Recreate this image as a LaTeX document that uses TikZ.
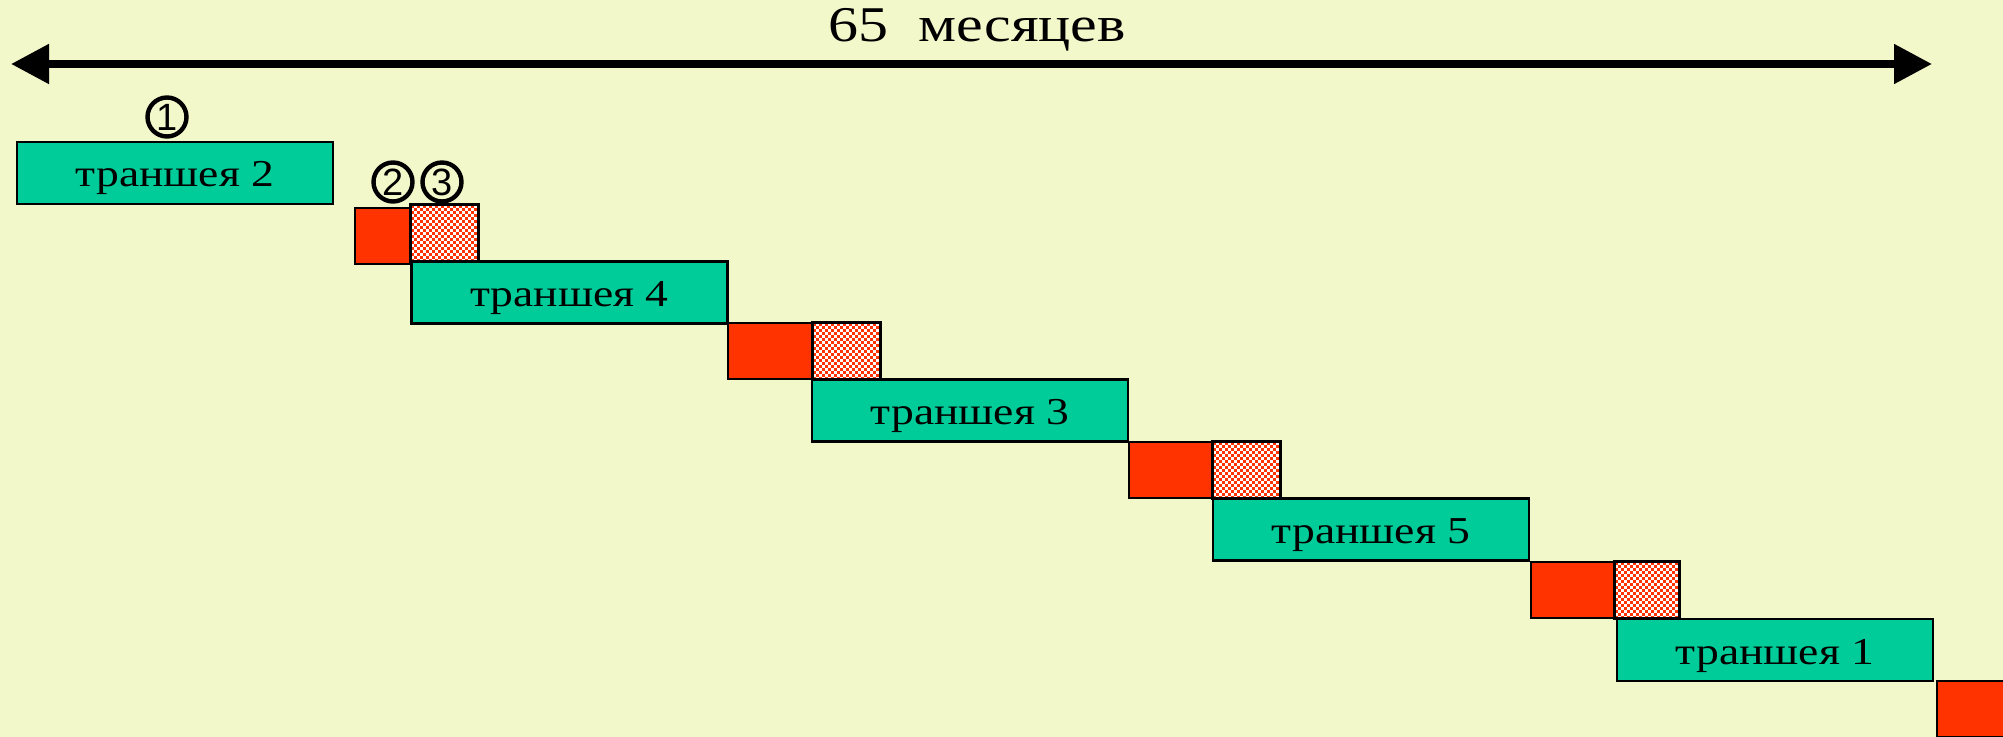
\documentclass[tikz,border=0pt]{standalone}
\usepackage{fontspec}
\setmainfont{Liberation Serif}[FakeStretch=1.2]
\newfontfamily\numfont{Liberation Sans}
\usetikzlibrary{positioning,arrows.meta,calc}
\usepackage{xcolor}
\definecolor{pagebg}{RGB}{243, 248, 202}
\definecolor{tranchegreen}{RGB}{0, 204, 153}
\definecolor{gapred}{RGB}{255, 51, 0}

% red checks inside a reserve block
\newcommand{\reservecheck}[1]{%
  \begin{scope}
    \clip (#1.south west) rectangle (#1.north east);
    \foreach \i in {0,...,11}
      \foreach \j in {0,...,10} {
        \fill[gapred] ($(#1.north west)+(\i*6,\j*6)$) rectangle +(3,3);
        \fill[gapred] ($(#1.north west)+(\i*6+3,\j*6+3)$) rectangle +(3,3);
      }
  \end{scope}
  \draw[line width=1.2pt] (#1.south west) rectangle (#1.north east);}

\begin{document}
\begin{tikzpicture}[x=0.5pt, y=-0.5pt, font=\fontsize{19}{22}\selectfont,
    tranche/.style={draw, line width=1.2pt, fill=tranchegreen, minimum width=158pt, minimum height=31pt, inner sep=0pt, text height=14pt, text depth=0pt},
    gap/.style={draw, line width=1.2pt, fill=gapred, minimum width=42pt, minimum height=28pt, inner sep=0pt},
    reserve/.style={fill=white, minimum width=33.5pt, minimum height=28pt, inner sep=0pt},
    num/.style={draw, circle, line width=2.2pt, minimum size=19.5pt, inner sep=0pt, font=\numfont\fontsize{19}{19}\selectfont}]

    \clip (0,0) rectangle (2003,737);
    \fill[pagebg] (0,0) rectangle (2003,737);

    % time axis
    \coordinate (axisL) at (11,64);
    \coordinate (axisR) at (1932,64);
    \draw[line width=4pt, {Triangle[length=19pt, width=19pt]}-{Triangle[length=19pt, width=19pt]}] (axisL) -- (axisR);
    \node [anchor=base, font=\fontsize{25}{28}\selectfont] (months) at (977,42) {65\ \ месяцев};

    % tranches
    \node [tranche] (t2) at (175,173) {траншея 2};
    \node [gap, minimum width=28pt] (g1) at (383,236) {};
    \node [reserve] (r1) at (444.5,233) {};
    \node [tranche] (t4) at (569.5,292.5) {траншея 4};
    \node [gap] (g2) at (770,351) {};
    \node [reserve] (r2) at (846.5,351) {};
    \node [tranche] (t3) at (970,410.5) {траншея 3};
    \node [gap] (g3) at (1171,470) {};
    \node [reserve] (r3) at (1246.5,470) {};
    \node [tranche] (t5) at (1371,529.5) {траншея 5};
    \node [gap] (g4) at (1573,590) {};
    \node [reserve, minimum width=32pt] (r4) at (1647,590) {};
    \node [tranche] (t1) at (1775,650) {траншея 1};
    \node [gap] (g5) at (1979,709) {};

    \foreach \r in {r1,r2,r3,r4}
      \reservecheck{\r};

    % numbered marks
    \node [num] (n1) at (167,117) {1};
    \node [num] (n2) at (393,182) {2};
    \node [num] (n3) at (442,182) {3};
\end{tikzpicture}
\end{document}
